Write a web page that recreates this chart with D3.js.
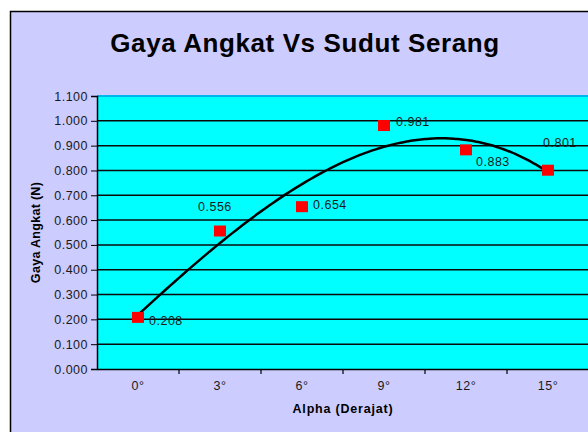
<!DOCTYPE html>
<html>
<head>
<meta charset="utf-8">
<script src="https://cdn.jsdelivr.net/npm/d3@7"></script>
<style>
  body { margin: 0; background: #fff; }
  svg text { font-family: "Liberation Sans", Arial, sans-serif; }
</style>
</head>
<body>
<div id="chart"></div>
<script>
const width = 588
const height = 432

// data
const categories = ['0°', '3°', '6°', '9°', '12°', '15°'];
const values = [0.208, 0.556, 0.654, 0.981, 0.883, 0.801];
const yTicks = [0, 0.1, 0.2, 0.3, 0.4, 0.5, 0.6, 0.7, 0.8, 0.9, 1.0, 1.1];

// label placement offsets from each point (dx, dy)
const labelOffsets = [[11, 3], [-22, -24], [11, -2], [12, -4], [10, 12], [-5, -28]];

const plot = {left: 97, right: 589, top: 96, bottom: 369};

const svg = d3.select('#chart').append('svg').attr('width', width).attr('height', height);

// outer chart area
svg.append('rect')
  .attr('x', 10.5).attr('y', 11.5)
  .attr('width', 600).attr('height', 440)
  .attr('fill', '#ccccff')
  .attr('stroke', '#000').attr('stroke-width', 1.5);

svg.append('text')
  .attr('x', 305).attr('y', 52)
  .attr('text-anchor', 'middle')
  .style('font-size', '26px').style('font-weight', 'bold')
  .style('letter-spacing', '0.6px')
  .text('Gaya Angkat Vs Sudut Serang');

const x = d3.scaleBand().domain(categories).range([plot.left, plot.right]);
const y = d3.scaleLinear().domain([0, 1.1]).range([plot.bottom, plot.top]);

svg.append('rect')
  .attr('x', plot.left).attr('y', plot.top)
  .attr('width', plot.right - plot.left).attr('height', plot.bottom - plot.top)
  .attr('fill', '#00ffff');

// gridlines
svg.append('g')
  .selectAll('line')
  .data(yTicks.slice(1, -1))
  .enter().append('line')
  .attr('x1', plot.left).attr('x2', plot.right)
  .attr('y1', d => y(d)).attr('y2', d => y(d))
  .attr('stroke', '#0a0a0a').attr('stroke-width', 1.5);

// top border of plot area
svg.append('line')
  .attr('x1', plot.left).attr('x2', plot.right)
  .attr('y1', y(1.1)).attr('y2', y(1.1))
  .attr('stroke', '#00b4ee').attr('stroke-width', 2);

const tickFont = sel => sel.style('font-size', '12.5px').style('letter-spacing', '0.5px')
  .attr('fill', '#1a1a1a').style('font-family', '"Liberation Sans", Arial, sans-serif');

// y axis
const yAxis = svg.append('g')
  .attr('transform', 'translate(' + plot.left + ',0)')
  .call(d3.axisLeft(y).tickValues(yTicks).tickFormat(d3.format('.3f')).tickSizeOuter(0).tickSize(6).tickPadding(3));
yAxis.select('.domain').attr('stroke', '#000').attr('stroke-width', 1.5);
yAxis.selectAll('.tick line').attr('stroke', '#000');
yAxis.selectAll('text').call(tickFont);

// x axis
const xTickPos = categories.map((c, i) => plot.left + i * x.bandwidth());
const xAxis = svg.append('g')
  .attr('transform', 'translate(0,' + plot.bottom + ')')
  .call(d3.axisBottom(x).tickSize(0).tickPadding(12).tickSizeOuter(0));
xAxis.select('.domain').attr('stroke', '#000').attr('stroke-width', 1.5);
xAxis.selectAll('text').call(tickFont);
svg.append('g')
  .selectAll('line')
  .data(xTickPos.slice(1))
  .enter().append('line')
  .attr('x1', d => d).attr('x2', d => d)
  .attr('y1', plot.bottom).attr('y2', plot.bottom + 5)
  .attr('stroke', '#000').attr('stroke-width', 1.2);

// axis titles
svg.append('text')
  .attr('transform', 'translate(40,' + (plot.top + plot.bottom) / 2 + ') rotate(-90)')
  .attr('text-anchor', 'middle')
  .style('font-size', '12.5px').style('font-weight', 'bold').style('letter-spacing', '0.3px')
  .text('Gaya Angkat (N)');

svg.append('text')
  .attr('x', (plot.left + plot.right) / 2).attr('y', 413)
  .attr('text-anchor', 'middle')
  .style('font-size', '12.5px').style('font-weight', 'bold').style('letter-spacing', '0.8px')
  .text('Alpha (Derajat)');

// cubic polynomial trendline (least squares on category index)
function polyFit(xs, ys, order) {
  const n = order + 1;
  const A = [];
  for (let r = 0; r < n; r++) {
    A.push([]);
    for (let c = 0; c < n; c++) A[r].push(d3.sum(xs, v => Math.pow(v, r + c)));
    A[r].push(d3.sum(xs, (v, i) => Math.pow(v, r) * ys[i]));
  }
  for (let i = 0; i < n; i++) {
    for (let k = i + 1; k < n; k++) {
      const f = A[k][i] / A[i][i];
      for (let j = i; j <= n; j++) A[k][j] -= f * A[i][j];
    }
  }
  const coef = new Array(n).fill(0);
  for (let i = n - 1; i >= 0; i--) {
    let s = A[i][n];
    for (let j = i + 1; j < n; j++) s -= A[i][j] * coef[j];
    coef[i] = s / A[i][i];
  }
  return coef;
}

const idx = categories.map((c, i) => i);
const coef = polyFit(idx, values, 3);
const xi = d3.scaleLinear().domain([0, categories.length - 1])
  .range([x(categories[0]) + x.bandwidth() / 2, x(categories[categories.length - 1]) + x.bandwidth() / 2]);
const trend = d3.range(0, 5.0001, 0.05).map(t => [t, coef.reduce((s, c, k) => s + c * Math.pow(t, k), 0)]);

svg.append('path')
  .datum(trend)
  .attr('fill', 'none')
  .attr('stroke', '#000')
  .attr('stroke-width', 2.5)
  .attr('d', d3.line().x(d => xi(d[0])).y(d => y(d[1])).curve(d3.curveBasis));

// markers
svg.append('g')
  .selectAll('rect')
  .data(values)
  .enter().append('rect')
  .attr('x', (d, i) => x(categories[i]) + x.bandwidth() / 2 - 6)
  .attr('y', d => y(d) - 5.5)
  .attr('width', 12).attr('height', 11)
  .attr('fill', '#ff0000');

// data labels
svg.append('g')
  .selectAll('text')
  .data(values)
  .enter().append('text')
  .attr('x', (d, i) => x(categories[i]) + x.bandwidth() / 2 + labelOffsets[i][0])
  .attr('y', (d, i) => y(d) + labelOffsets[i][1])
  .attr('dy', '0.35em')
  .call(tickFont)
  .text(d => d3.format('.3f')(d));
</script>
</body>
</html>
